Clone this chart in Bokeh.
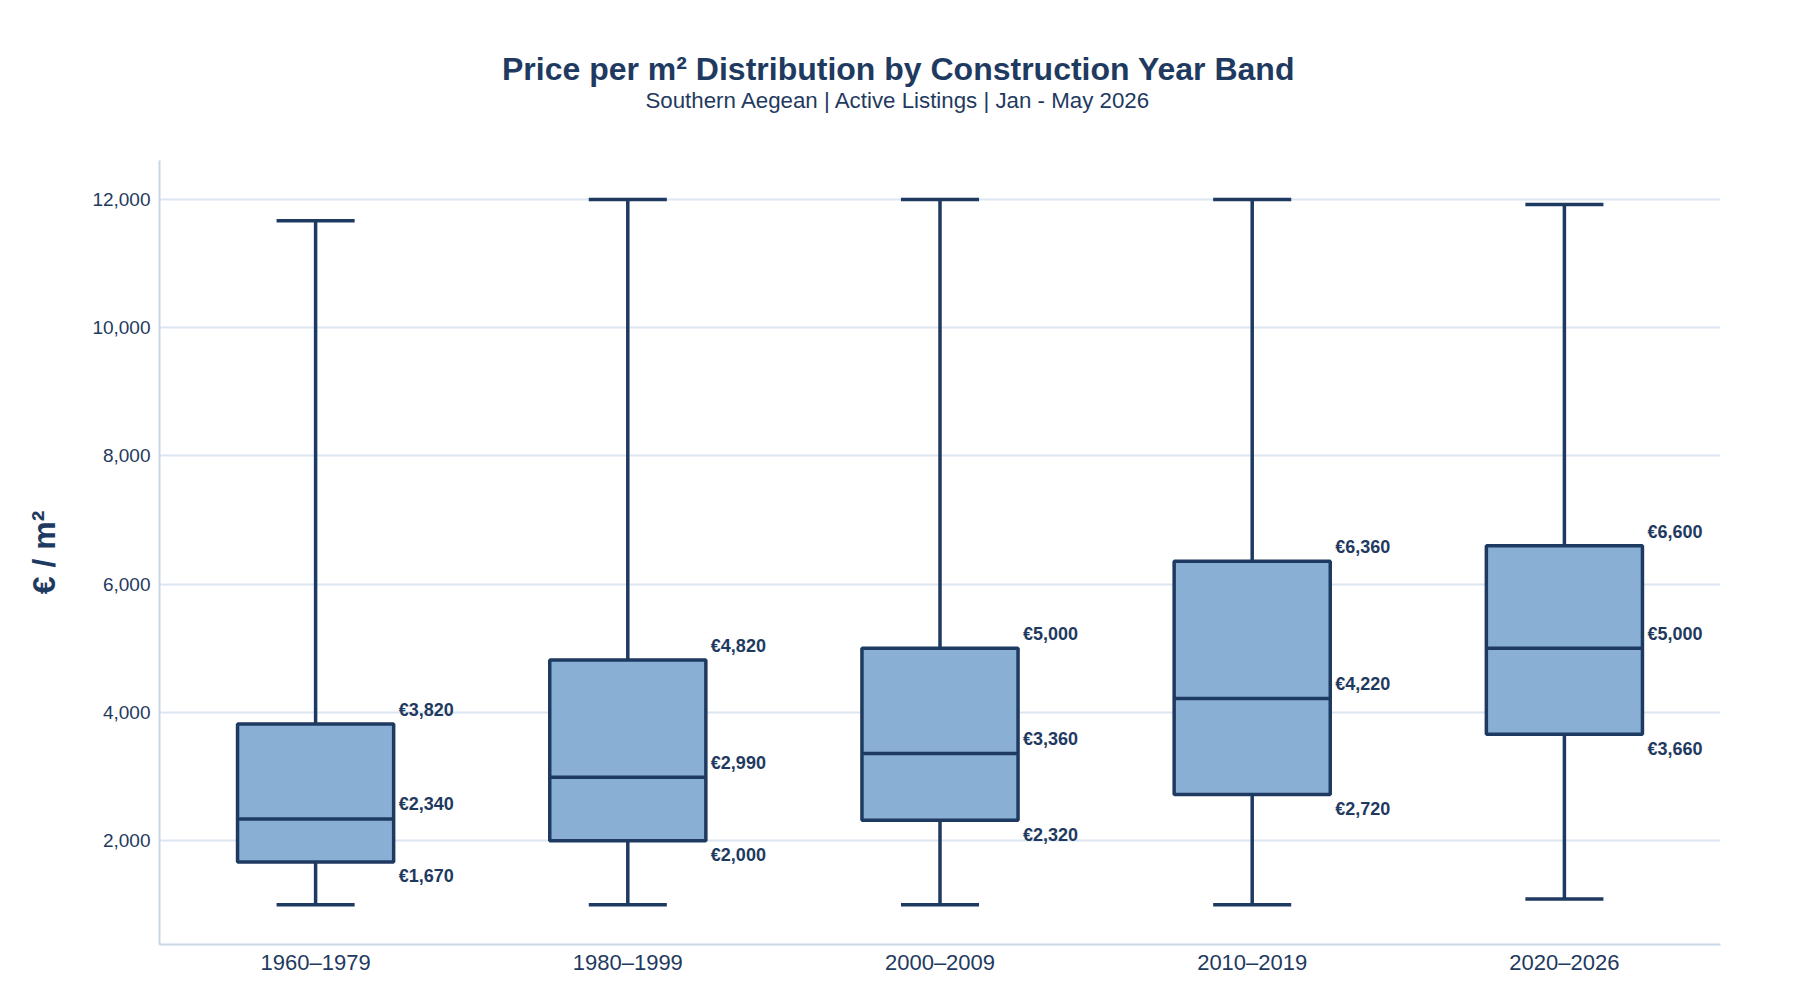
from bokeh.plotting import figure
from bokeh.layouts import column
from bokeh.models import ColumnDataSource, NumeralTickFormatter, FixedTicker, Range1d, FactorRange
from bokeh.transform import dodge
from bokeh.embed import file_html
from bokeh.resources import INLINE
from bokeh.core.properties import value

# ---- data ----
categories = ["1960–1979", "1980–1999", "2000–2009", "2010–2019", "2020–2026"]
lower = [1000, 1000, 1000, 1000, 1090]
q1 = [1670, 2000, 2320, 2720, 3660]
median = [2340, 2990, 3360, 4220, 5000]
q3 = [3820, 4820, 5000, 6360, 6600]
upper = [11670, 12000, 12000, 12000, 11920]
y_ticks = [2000, 4000, 6000, 8000, 10000, 12000]

title_text = "Price per m² Distribution by Construction Year Band"
subtitle_text = "Southern Aegean | Active Listings | Jan - May 2026"
y_label = "€ / m²"

# ---- style ----
NAVY = "#1f3a60"
FILL = "#8aafd4"
GRID = "#dce6f2"
AXIS = "#c8d6e8"
FONT = "Liberation Sans"

W = 1784
HT = 150            # header height
H = 834             # main figure height
ML, MR, MT, MB = 159, 64, 10, 40

def eur(v):
    return "€{:,}".format(v)

src = ColumnDataSource(dict(
    cat=categories, lower=lower, q1=q1, median=median, q3=q3, upper=upper,
    q1_lbl=[eur(v) for v in q1], med_lbl=[eur(v) for v in median], q3_lbl=[eur(v) for v in q3],
))

# ---- header with title and subtitle (header range = page pixels) ----
hdr = figure(width=W, height=HT, x_range=Range1d(ML, W - MR), y_range=Range1d(0, HT),
             output_backend="svg", toolbar_location=None, title_location=None,
             min_border_left=ML, min_border_right=MR, min_border_top=0, min_border_bottom=0,
             x_axis_location=None, y_axis_location=None,
             background_fill_color="white", border_fill_color="white")
hdr.outline_line_color = None
hdr.grid.grid_line_color = None
hdr.text(x=[898], y=[HT - 68], text=[title_text], text_font=value(FONT), text_font_style="bold",
         text_font_size="32px", text_color=NAVY, text_align="center", text_baseline="alphabetic")
hdr.text(x=[898], y=[HT - 100], text=[subtitle_text], text_font=value(FONT),
         text_font_size="22.3px", text_color=NAVY, text_align="center", text_baseline="alphabetic")

# ---- main plot ----
p = figure(
    x_range=FactorRange(*categories), y_range=Range1d(382, 12608),
    width=W, height=H, output_backend="svg", toolbar_location=None,
    min_border_left=ML, min_border_right=MR, min_border_top=MT, min_border_bottom=MB,
    background_fill_color="white", border_fill_color="white",
)
p.outline_line_color = None
p.xgrid.grid_line_color = None
p.ygrid.grid_line_color = GRID
p.ygrid.grid_line_width = 2

p.yaxis.ticker = FixedTicker(ticks=y_ticks)
p.yaxis.formatter = NumeralTickFormatter(format="0,0")
for ax in (p.xaxis[0], p.yaxis[0]):
    ax.axis_line_color = AXIS
    ax.axis_line_width = 2
    ax.major_tick_line_color = None
    ax.minor_tick_line_color = None
    ax.major_label_text_color = NAVY
    ax.major_label_text_font = FONT
p.yaxis.major_label_text_font_size = "19px"
p.yaxis.major_label_standoff = 3
p.xaxis.major_label_text_font_size = "22px"
p.xaxis.major_label_standoff = -1
p.yaxis.axis_label = y_label
p.yaxis.axis_label_text_font = FONT
p.yaxis.axis_label_text_font_style = "bold"
p.yaxis.axis_label_text_font_size = "32px"
p.yaxis.axis_label_text_color = NAVY
p.yaxis.axis_label_standoff = 27

xr = p.x_range
# whiskers
p.segment(x0="cat", y0="q3", x1="cat", y1="upper", source=src, line_color=NAVY, line_width=3.5)
p.segment(x0="cat", y0="q1", x1="cat", y1="lower", source=src, line_color=NAVY, line_width=3.5)
p.segment(x0=dodge("cat", -0.125, range=xr), y0="upper", x1=dodge("cat", 0.125, range=xr), y1="upper",
          source=src, line_color=NAVY, line_width=3.5)
p.segment(x0=dodge("cat", -0.125, range=xr), y0="lower", x1=dodge("cat", 0.125, range=xr), y1="lower",
          source=src, line_color=NAVY, line_width=3.5)
# boxes
p.vbar(x="cat", bottom="q1", top="q3", width=0.5, source=src,
       fill_color=FILL, line_color=NAVY, line_width=3.5)
p.segment(x0=dodge("cat", -0.25, range=xr), y0="median", x1=dodge("cat", 0.25, range=xr), y1="median",
          source=src, line_color=NAVY, line_width=3.5)

# value labels
lbl_kw = dict(source=src, text_font=value(FONT), text_font_style="bold", text_font_size="18px",
              text_color=NAVY, text_align="left", text_baseline="alphabetic", x_offset=5)
p.text(x=dodge("cat", 0.25, range=xr), y="q3", text="q3_lbl", y_offset=-14, **lbl_kw)
p.text(x=dodge("cat", 0.25, range=xr), y="median", text="med_lbl", y_offset=-14.5, **lbl_kw)
p.text(x=dodge("cat", 0.25, range=xr), y="q1", text="q1_lbl", y_offset=14.5, **lbl_kw)

layout = column(hdr, p, spacing=0)
open("out.html", "w").write(file_html(layout, INLINE))
